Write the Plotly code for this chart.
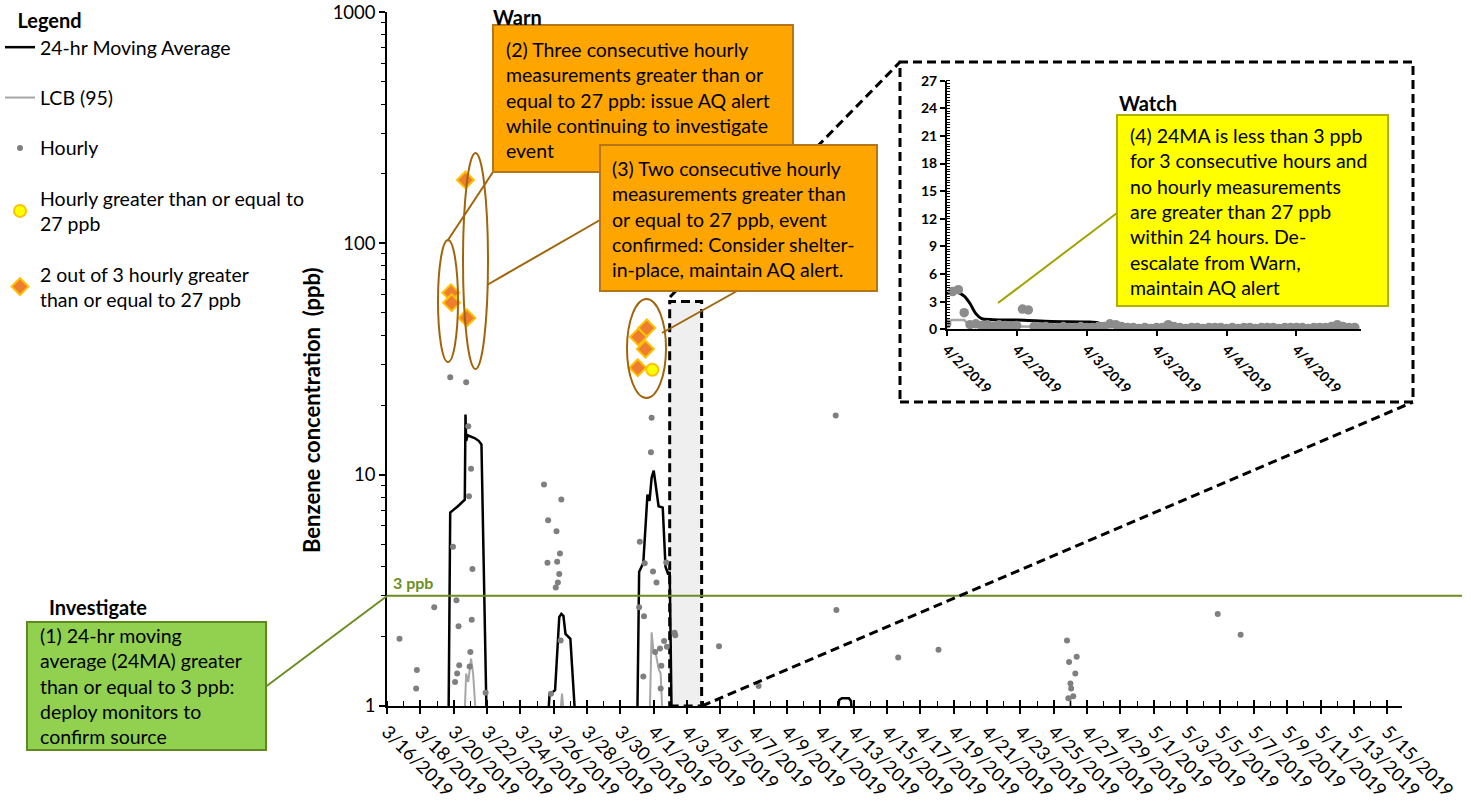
import math
import pandas as pd
import plotly.graph_objects as go

# ---------------- data ----------------
ma_times = ["2019-03-19 16:00", "2019-03-19 19:00", "2019-03-20 06:00", "2019-03-20 13:00",
            "2019-03-20 16:00", "2019-03-20 17:00", "2019-03-20 18:00", "2019-03-20 20:00",
            "2019-03-21 06:00", "2019-03-21 12:00", "2019-03-21 16:00", "2019-03-22 00:00",
            "2019-03-25 15:00", "2019-03-25 18:00", "2019-03-26 02:00", "2019-03-26 08:00",
            "2019-03-26 11:00", "2019-03-26 14:00", "2019-03-26 17:00", "2019-03-27 00:00",
            "2019-03-27 08:00", "2019-03-31 00:00", "2019-03-31 03:00", "2019-03-31 09:00",
            "2019-03-31 13:00", "2019-03-31 15:00", "2019-03-31 18:00", "2019-03-31 21:00",
            "2019-04-01 00:00", "2019-04-01 04:00", "2019-04-01 07:00", "2019-04-01 13:00",
            "2019-04-01 17:00", "2019-04-01 21:00", "2019-04-01 23:00", "2019-04-02 02:00",
            "2019-04-12 00:00", "2019-04-12 03:00", "2019-04-12 07:00", "2019-04-12 17:00",
            "2019-04-12 20:00", "2019-04-12 22:00"]
ma_vals = [0.5, 6.85, 7.3, 7.7,
           7.8, 18.2, 14.0, 14.8,
           14.4, 14.0, 13.5, 0.7,
           0.8, 1.12, 1.17, 2.42,
           2.5, 2.45, 2.05, 1.95,
           0.8, 0.7, 3.8, 4.15,
           7.2, 8.2, 7.7, 9.7,
           10.4, 8.2, 7.3, 7.2,
           4.0, 3.7, 3.8, 0.8,
           0.9, 1.06, 1.08, 1.08,
           1.05, 0.9]

lcb_times = ["2019-03-20 15:00", "2019-03-20 18:00", "2019-03-20 21:00", "2019-03-21 01:00",
             "2019-03-21 04:00", "2019-03-21 09:00",
             "2019-03-26 09:00", "2019-03-26 12:00", "2019-03-26 15:00",
             "2019-03-31 18:00", "2019-03-31 21:00", "2019-04-01 00:00", "2019-04-01 02:00",
             "2019-04-01 07:00", "2019-04-01 10:00", "2019-04-01 13:00",
             "2019-04-25 22:00", "2019-04-26 00:00", "2019-04-26 02:00"]
lcb_vals = [0.8, 1.38, 1.27, 1.6,
            1.38, 0.8,
            0.9, 1.13, 0.9,
            0.85, 2.08, 1.69, 1.75,
            1.45, 1.38, 0.85,
            0.9, 1.09, 0.9]

hourly_times = ["2019-03-16 18:00", "2019-03-17 18:00", "2019-03-17 19:00", "2019-03-18 20:00",
                "2019-03-19 19:00", "2019-03-19 23:00", "2019-03-20 02:00", "2019-03-20 04:00",
                "2019-03-20 05:00", "2019-03-20 07:00", "2019-03-20 08:00", "2019-03-20 18:00",
                "2019-03-20 21:00", "2019-03-20 22:00", "2019-03-20 23:00", "2019-03-21 00:00",
                "2019-03-21 01:00", "2019-03-21 02:00", "2019-03-21 03:00", "2019-03-21 22:00",
                "2019-03-25 10:00", "2019-03-25 15:00", "2019-03-25 16:00", "2019-03-25 20:00",
                "2019-03-26 03:00", "2019-03-26 04:00", "2019-03-26 05:00", "2019-03-26 06:00",
                "2019-03-26 08:00", "2019-03-26 09:00", "2019-03-26 10:00", "2019-03-26 11:00",
                "2019-03-31 03:00", "2019-03-31 04:00", "2019-03-31 09:00", "2019-03-31 10:00",
                "2019-03-31 11:00", "2019-03-31 20:00", "2019-03-31 21:00", "2019-03-31 23:00",
                "2019-04-01 02:00", "2019-04-01 04:00", "2019-04-01 09:00", "2019-04-01 10:00",
                "2019-04-01 11:00", "2019-04-01 15:00", "2019-04-01 18:00", "2019-04-01 19:00",
                "2019-04-02 06:00", "2019-04-02 07:00", "2019-04-04 22:00", "2019-04-07 07:00",
                "2019-04-11 22:00", "2019-04-11 23:00", "2019-04-15 16:00", "2019-04-18 02:00",
                "2019-04-25 19:00", "2019-04-25 21:00", "2019-04-25 22:00", "2019-04-26 00:00",
                "2019-04-26 01:00", "2019-04-26 04:00", "2019-04-26 07:00", "2019-04-26 09:00",
                "2019-05-04 20:00", "2019-05-06 05:00"]
hourly_vals = [1.95, 1.19, 1.43, 2.67,
               26.4, 4.88, 1.27, 2.86,
               1.38, 2.21, 1.50, 25.1,
               16.2, 8.07, 1.48, 1.71,
               10.6, 2.36, 3.91, 1.14,
               9.06, 4.16, 6.35, 1.13,
               3.25, 5.69, 4.20, 3.42,
               3.72, 4.56, 1.92, 7.80,
               2.67, 5.12, 1.34, 2.44,
               4.14, 12.5, 17.6, 3.81,
               1.71, 3.42, 1.77, 1.19,
               1.49, 1.91, 4.17, 1.80,
               2.07, 2.02, 1.81, 1.22,
               18.0, 2.60, 1.62, 1.75,
               1.92, 1.08, 1.55, 1.25,
               1.19, 1.10, 1.38, 1.63,
               2.50, 2.03]

yellow_times = ["2019-03-31 22:00"]
yellow_vals = [28.4]

diamond_times = ["2019-03-19 20:00", "2019-03-19 21:00", "2019-03-20 17:00", "2019-03-20 19:00",
                 "2019-03-31 01:00", "2019-03-31 02:00", "2019-03-31 12:00", "2019-03-31 14:00"]
diamond_vals = [61.1, 55.4, 188.0, 47.6,
                29.0, 39.4, 34.9, 43.1]

threshold_ppb = 3
zoom_box_top_ppb = 56
zoom_period = ["2019-04-01 23:00", "2019-04-03 21:00"]

y_ticks = [1, 10, 100, 1000]

# inset (4/2 - 4/4), hourly from 2019-04-02 00:00
inset_start = "2019-04-02 00:00"
inset_hourly_vals = [0.6, 4.1, 4.3, 1.8, 0.5, 0.6, 0.4, 0.5, 0.3, 0.5, 0.4, 0.3,
                     0.4, 2.2, 2.1, 0.3, 0.2, 0.3, 0.2, 0.2, 0.3, 0.2, 0.2, 0.3,
                     0.2, 0.2, 0.3, 0.3, 0.6, 0.5, 0.3, 0.2, 0.2, 0.1, 0.2, 0.1,
                     0.2, 0.2, 0.5, 0.3, 0.2, 0.1, 0.2, 0.2, 0.1, 0.2, 0.2, 0.2,
                     0.1, 0.2, 0.1, 0.2, 0.2, 0.1, 0.2, 0.2, 0.2, 0.1, 0.2, 0.2,
                     0.2, 0.2, 0.1, 0.2, 0.2, 0.2, 0.3, 0.5, 0.3, 0.2, 0.2]
inset_ma_times = ["2019-04-02 00:00", "2019-04-02 01:00", "2019-04-02 02:00", "2019-04-02 03:00",
                  "2019-04-02 04:00", "2019-04-02 05:00", "2019-04-02 06:00", "2019-04-02 08:00",
                  "2019-04-02 12:00", "2019-04-02 14:00", "2019-04-02 18:00", "2019-04-03 00:00",
                  "2019-04-03 02:00", "2019-04-03 03:00", "2019-04-03 06:00", "2019-04-03 12:00",
                  "2019-04-04 22:00"]
inset_ma_vals = [3.9, 4.0, 4.0, 3.6,
                 2.8, 1.7, 1.15, 1.05,
                 1.0, 0.95, 0.85, 0.8,
                 0.7, 0.45, 0.35, 0.3,
                 0.25]
inset_lcb_times = ["2019-04-02 00:00", "2019-04-02 01:00", "2019-04-02 03:00", "2019-04-02 04:00",
                   "2019-04-02 12:00", "2019-04-03 00:00", "2019-04-04 22:00"]
inset_lcb_vals = [0.85, 1.0, 1.0, 0.4, 0.3, 0.25, 0.1]

# ---------------- layout helpers (pixel -> paper) ----------------
W, H = 1471, 802
L, R, T, B = 387, 1402, 12, 706


def fx(p):
    return (p - L) / (R - L)


def fy(p):
    return (B - p) / (B - T)


FONT = "Lato"
ORANGE_BORDER = "#B5761A"
BROWN = "#A0640A"
GREEN = "#6B8E23"
DASH = "9px,5px"

fig = go.Figure()

# main traces (legend order)
fig.add_trace(go.Scatter(x=ma_times, y=ma_vals, mode="lines", name="24-hr Moving Average",
                         line=dict(color="black", width=2.5), legendgroup="a"))
fig.add_trace(go.Scatter(x=lcb_times, y=lcb_vals, mode="lines", name="LCB (95)",
                         line=dict(color="#A6A6A6", width=2), legendgroup="b"))
fig.add_trace(go.Scatter(x=hourly_times, y=hourly_vals, mode="markers", name="Hourly",
                         marker=dict(color="#7F7F7F", size=6), legendgroup="c"))
fig.add_trace(go.Scatter(x=yellow_times, y=yellow_vals, mode="markers",
                         name="Hourly greater than or equal to<br>27 ppb",
                         marker=dict(color="#FFFF00", size=12, line=dict(color="#FFC000", width=2)),
                         legendgroup="d"))
fig.add_trace(go.Scatter(x=diamond_times, y=diamond_vals, mode="markers",
                         name="2 out of 3 hourly greater<br>than or equal to 27 ppb",
                         marker=dict(color="#ED7D31", symbol="diamond", size=13,
                                     line=dict(color="#FFC000", width=2)),
                         legendgroup="e"))

# inset traces
inset_times = pd.date_range(inset_start, periods=len(inset_hourly_vals), freq="h")
fig.add_trace(go.Scatter(x=inset_lcb_times, y=inset_lcb_vals, mode="lines", xaxis="x2", yaxis="y2",
                         line=dict(color="#A6A6A6", width=2.5), showlegend=False))
fig.add_trace(go.Scatter(x=inset_ma_times, y=inset_ma_vals, mode="lines", xaxis="x2", yaxis="y2",
                         line=dict(color="black", width=3, shape="spline"), showlegend=False))
fig.add_trace(go.Scatter(x=inset_times, y=inset_hourly_vals, mode="markers", xaxis="x2", yaxis="y2",
                         marker=dict(color="#8C8C8C", size=9.5), showlegend=False))
# helper trace for the crossing major ticks
fig.add_trace(go.Scatter(x=[], y=[], xaxis="x3", yaxis="y", showlegend=False))

x_range = ["2019-03-16 00:00", "2019-05-15 21:20"]
DAY = 86400000
minor_log = [m * 10 ** e for e in range(3) for m in range(2, 10)]
EPS = 0.0004

shapes = []
# zoom rectangle (magnified period)
shapes.append(dict(type="rect", xref="x", yref="paper", x0=zoom_period[0], x1=zoom_period[1],
                   y0=0, y1=math.log10(zoom_box_top_ppb) / 3, fillcolor="#EFEFEF",
                   line=dict(color="black", width=3, dash=DASH), layer="below"))
# 3 ppb line
y3 = math.log10(threshold_ppb) / 3
shapes.append(dict(type="line", xref="paper", yref="paper", x0=0, x1=fx(1462), y0=y3, y1=y3,
                   line=dict(color=GREEN, width=2)))
# diagonals to inset
shapes.append(dict(type="line", xref="paper", yref="paper", x0=fx(670), y0=fy(297), x1=fx(900), y1=fy(62),
                   line=dict(color="black", width=3, dash=DASH)))
shapes.append(dict(type="line", xref="paper", yref="paper", x0=fx(702), y0=fy(706), x1=fx(1413), y1=fy(402),
                   line=dict(color="black", width=3, dash=DASH)))
# inset frame
shapes.append(dict(type="rect", xref="paper", yref="paper", x0=fx(900), x1=fx(1413), y0=fy(402), y1=fy(62),
                   line=dict(color="black", width=3, dash=DASH)))
# ellipses
for (x0, x1, ya, yb) in [(438, 458, 240, 362), (463, 488, 153, 369), (627, 666, 299, 398)]:
    shapes.append(dict(type="circle", xref="paper", yref="paper", x0=fx(x0), x1=fx(x1), y0=fy(yb), y1=fy(ya),
                       line=dict(color=BROWN, width=2)))
# connectors
for (xa, ya, xb, yb, c) in [(493, 172, 448, 240, BROWN), (600, 220, 487, 285, BROWN),
                            (737, 291, 662, 333, BROWN), (264, 688, 387, 596, GREEN),
                            (1117, 213, 998, 303, "#A3A300")]:
    shapes.append(dict(type="line", xref="paper", yref="paper", x0=fx(xa), y0=fy(ya), x1=fx(xb), y1=fy(yb),
                       line=dict(color=c, width=2)))

annotations = []
TEXT_SIZE = 19.5


def box(lines, x0, y0, x1, y1, fill, border, tx, ty):
    shapes.append(dict(type="rect", xref="paper", yref="paper", x0=fx(x0), x1=fx(x1), y0=fy(y1), y1=fy(y0),
                       fillcolor=fill, line=dict(color=border, width=2), layer="above"))
    annotations.append(dict(text="<br>".join(lines), xref="paper", yref="paper", x=fx(tx), y=fy(ty),
                            xanchor="left", yanchor="middle", showarrow=False, align="left",
                            font=dict(family=FONT, size=TEXT_SIZE, color="black")))


def label(text, x, y, size=20, color="black", anchor="left"):
    annotations.append(dict(text="<b>%s</b>" % text, xref="paper", yref="paper", x=fx(x), y=fy(y),
                            xanchor=anchor, yanchor="middle", showarrow=False,
                            font=dict(family=FONT, size=size, color=color)))


label("Warn", 491, 17)
box(["(2) Three consecutive hourly", "measurements greater than or", "equal to 27 ppb: issue AQ alert",
     "while continuing to investigate", "event"], 493, 25, 793, 172, "#FFA500", ORANGE_BORDER, 504, 100)
box(["(3) Two consecutive hourly", "measurements greater than", "or equal to 27 ppb, event",
     "confirmed: Consider shelter-", "in-place, maintain AQ alert."], 600, 145, 877, 291,
    "#FFA500", ORANGE_BORDER, 610, 219)
label("Investigate", 47, 607)
box(["(1) 24-hr moving", "average (24MA) greater", "than or equal to 3 ppb:", "deploy monitors to",
     "confirm source"], 27, 622, 266, 750, "#92D050", "#5E8A1F", 38, 686)
label("3 ppb", 391, 582, size=16, color=GREEN)
label("Watch", 1117, 103)
box(["(4) 24MA is less than 3 ppb", "for 3 consecutive hours and", "no hourly measurements",
     "are greater than 27 ppb", "within 24 hours. De-", "escalate from Warn,", "maintain AQ alert"],
    1117, 115, 1388, 306, "#FFFF00", "#B0B000", 1128, 212)
# y-axis title
annotations.append(dict(text="<b>Benzene concentration  (ppb)</b>", xref="paper", yref="paper",
                        x=fx(311), y=fy(410), textangle=-90, showarrow=False,
                        xanchor="center", yanchor="middle",
                        font=dict(family=FONT, size=22, color="black")))

fig.update_layout(
    template="none",
    width=W, height=H, autosize=False,
    margin=dict(l=L, r=W - R, t=T, b=H - B, pad=0, autoexpand=False),
    paper_bgcolor="white", plot_bgcolor="white",
    font=dict(family=FONT, size=19, color="black"),
    showlegend=True,
    legend=dict(xref="container", yref="container", x=0.0, y=1 - 2 / H, xanchor="left", yanchor="top",
                bgcolor="rgba(0,0,0,0)", borderwidth=0,
                title=dict(text="&nbsp;&nbsp;&nbsp;<b>Legend</b>", font=dict(family=FONT, size=20)),
                font=dict(family=FONT, size=TEXT_SIZE), tracegroupgap=22, itemsizing="trace",
                traceorder="grouped"),
    xaxis=dict(type="date", range=x_range, tick0="2019-03-16", dtick=2 * DAY, tickformat="%-m/%-d/%Y",
               tickangle=45, ticks="outside", ticklen=6, tickwidth=1.5, tickcolor="black",
               showline=True, linecolor="black", linewidth=1.5, showgrid=False, zeroline=False,
               automargin=False, ticklabeloverflow="allow", tickfont=dict(family=FONT, size=18.5),
               minor=dict(ticks="inside", ticklen=5, tickwidth=1.2, tickcolor="black",
                          dtick=DAY, tick0="2019-03-16")),
    xaxis3=dict(type="date", range=x_range, overlaying="x", anchor="y", tick0="2019-03-16",
                dtick=2 * DAY, ticks="inside", ticklen=6, tickwidth=1.5, tickcolor="black",
                showticklabels=False, showline=False, showgrid=False, zeroline=False, automargin=False),
    yaxis=dict(type="log", range=[-EPS, 3 + EPS], tickvals=y_ticks, ticktext=[str(v) for v in y_ticks],
               ticks="outside", ticklen=6, tickwidth=1.5, tickcolor="black",
               showline=True, linecolor="black", linewidth=1.5, showgrid=False, zeroline=False,
               automargin=False, ticklabeloverflow="allow", tickfont=dict(family=FONT, size=18.5),
               minor=dict(ticks="outside", ticklen=4, tickwidth=1.2, tickcolor="black",
                          tickmode="array", tickvals=minor_log)),
    xaxis2=dict(type="date", domain=[fx(946.7), fx(1360.6)], anchor="y2",
                range=["2019-04-02 00:00", "2019-04-04 23:00"], tick0="2019-04-02", dtick=DAY / 2,
                tickformat="%-m/%-d/%Y", tickangle=45, ticks="outside", ticklen=5, tickwidth=1.5,
                tickcolor="black", showline=True, linecolor="black", linewidth=1.5,
                showgrid=False, zeroline=False, automargin=False,
                tickfont=dict(family=FONT, size=14, weight="bold")),
    yaxis2=dict(domain=[fy(329.3), fy(80.7)], anchor="x2", range=[0, 27], tick0=0, dtick=3,
                ticks="outside", ticklen=5, tickwidth=1.5, tickcolor="black",
                showline=True, linecolor="black", linewidth=1.5, showgrid=False, zeroline=False,
                automargin=False, tickfont=dict(family=FONT, size=14, weight="bold"),
                minor=dict(ticks="inside", ticklen=4, tickwidth=1, tickcolor="black", dtick=0.3)),
    shapes=shapes,
    annotations=annotations,
)

fig.write_html("out.html", config={"displayModeBar": False},
               post_script="document.body.style.margin='0';")
